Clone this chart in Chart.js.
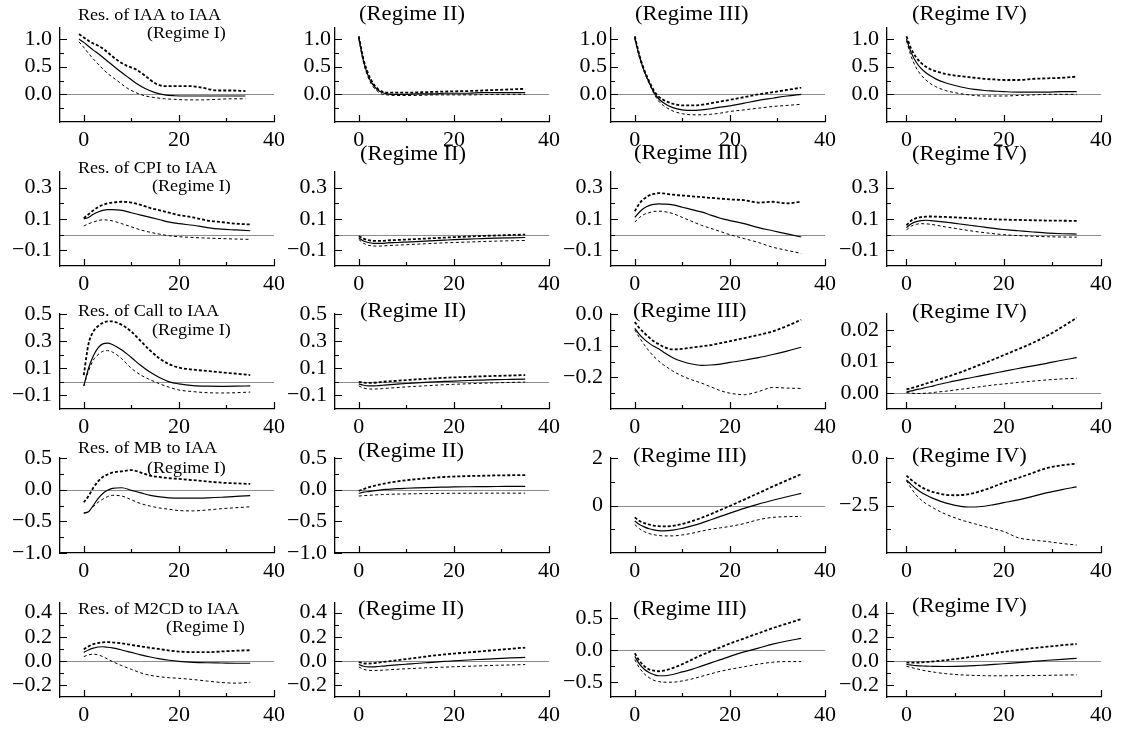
<!DOCTYPE html>
<html><head><meta charset="utf-8">
<script src="https://cdn.jsdelivr.net/npm/chart.js@4.4.0/dist/chart.umd.min.js"></script>
<style>
html,body{margin:0;padding:0;background:#fff;overflow:hidden;}
#wrap{position:relative;width:1123px;height:731px;overflow:hidden;background:#fff;}
canvas{position:absolute;}
</style></head><body><div id="wrap"></div>
<script>
// ---------------- DATA ----------------
const horizon      = [0,1,2,3,4,5,6,8,10,12,14,16,18,20,23,26,29,32,35];
const horizonIAA_I = [-1,0,1,2,3,4,5,7,9,11,13,15,17,19,22,25,28,31,34];

const variableNames = ["IAA","CPI","Call","MB","M2CD"];
const regimeNames = ["(Regime I)","(Regime II)","(Regime III)","(Regime IV)"];

// Res. of IAA to IAA
const iaa_I_mid  = [1.0,0.94,0.87,0.80,0.74,0.67,0.60,0.46,0.33,0.20,0.10,0.03,-0.01,-0.025,-0.03,-0.03,-0.03,-0.03,-0.03];
const iaa_I_up   = [1.09,1.03,0.97,0.92,0.88,0.83,0.76,0.62,0.52,0.45,0.33,0.20,0.15,0.15,0.15,0.12,0.07,0.07,0.06];
const iaa_I_lo   = [0.95,0.85,0.74,0.64,0.55,0.46,0.38,0.25,0.12,0.03,-0.03,-0.06,-0.08,-0.09,-0.10,-0.10,-0.09,-0.08,-0.08];
const iaa_II_mid = [1.03,0.60,0.33,0.17,0.08,0.03,0.01,0.0,0.0,0.01,0.01,0.01,0.02,0.02,0.02,0.03,0.03,0.03,0.03];
const iaa_II_up  = [1.05,0.63,0.37,0.20,0.10,0.05,0.03,0.03,0.03,0.035,0.04,0.045,0.05,0.055,0.06,0.07,0.08,0.09,0.10];
const iaa_II_lo  = [1.0,0.57,0.30,0.14,0.05,0.0,-0.01,-0.02,-0.02,-0.02,-0.015,-0.01,-0.01,-0.01,-0.01,-0.005,0.0,0.0,0.0];
const iaa_III_mid= [1.03,0.68,0.42,0.22,0.04,-0.08,-0.15,-0.24,-0.28,-0.29,-0.28,-0.26,-0.23,-0.21,-0.16,-0.11,-0.07,-0.03,0.0];
const iaa_III_up = [1.05,0.70,0.44,0.24,0.07,-0.04,-0.10,-0.17,-0.20,-0.20,-0.19,-0.16,-0.13,-0.10,-0.05,0.0,0.04,0.08,0.12];
const iaa_III_lo = [1.0,0.66,0.40,0.20,0.02,-0.12,-0.20,-0.30,-0.35,-0.37,-0.37,-0.36,-0.34,-0.31,-0.28,-0.25,-0.22,-0.20,-0.18];
const iaa_IV_mid = [1.0,0.75,0.58,0.47,0.39,0.33,0.28,0.21,0.16,0.12,0.09,0.07,0.06,0.05,0.04,0.04,0.04,0.05,0.05];
const iaa_IV_up  = [1.05,0.82,0.67,0.57,0.50,0.45,0.42,0.37,0.34,0.32,0.30,0.28,0.27,0.26,0.26,0.28,0.29,0.30,0.32];
const iaa_IV_lo  = [0.97,0.68,0.48,0.35,0.26,0.19,0.14,0.07,0.03,0.0,-0.02,-0.03,-0.03,-0.03,-0.02,-0.01,0.0,0.0,0.0];

// Res. of CPI to IAA
const cpi_I_mid  = [0.10,0.11,0.13,0.145,0.155,0.16,0.16,0.155,0.14,0.125,0.11,0.095,0.08,0.07,0.06,0.045,0.035,0.03,0.025];
const cpi_I_up   = [0.105,0.13,0.155,0.175,0.19,0.20,0.205,0.21,0.205,0.19,0.17,0.155,0.14,0.125,0.11,0.09,0.08,0.07,0.065];
const cpi_I_lo   = [0.055,0.07,0.08,0.09,0.095,0.093,0.088,0.07,0.05,0.03,0.015,0.003,-0.007,-0.013,-0.018,-0.022,-0.025,-0.028,-0.03];
const cpi_II_mid = [-0.02,-0.04,-0.05,-0.055,-0.055,-0.055,-0.052,-0.05,-0.047,-0.044,-0.041,-0.038,-0.035,-0.032,-0.028,-0.025,-0.022,-0.02,-0.018];
const cpi_II_up  = [-0.01,-0.025,-0.035,-0.04,-0.04,-0.04,-0.037,-0.034,-0.031,-0.028,-0.025,-0.022,-0.019,-0.016,-0.012,-0.008,-0.005,-0.002,0.0];
const cpi_II_lo  = [-0.03,-0.055,-0.068,-0.072,-0.073,-0.072,-0.07,-0.067,-0.064,-0.061,-0.058,-0.055,-0.052,-0.05,-0.047,-0.044,-0.041,-0.039,-0.037];
const cpi_III_mid= [0.11,0.145,0.17,0.185,0.193,0.196,0.195,0.19,0.175,0.16,0.145,0.125,0.105,0.09,0.07,0.045,0.025,0.005,-0.015];
const cpi_III_up = [0.15,0.20,0.23,0.25,0.26,0.265,0.263,0.255,0.25,0.245,0.24,0.235,0.23,0.225,0.22,0.205,0.21,0.20,0.21];
const cpi_III_lo = [0.08,0.11,0.13,0.14,0.148,0.15,0.148,0.135,0.11,0.085,0.06,0.04,0.02,0.0,-0.025,-0.05,-0.08,-0.10,-0.12];
const cpi_IV_mid = [0.045,0.07,0.083,0.09,0.092,0.09,0.087,0.08,0.072,0.064,0.056,0.048,0.04,0.033,0.025,0.017,0.01,0.006,0.004];
const cpi_IV_up  = [0.06,0.09,0.105,0.112,0.115,0.116,0.115,0.113,0.11,0.107,0.104,0.101,0.098,0.096,0.094,0.092,0.09,0.089,0.088];
const cpi_IV_lo  = [0.03,0.055,0.066,0.07,0.069,0.066,0.061,0.05,0.04,0.03,0.021,0.013,0.006,0.0,-0.006,-0.01,-0.013,-0.015,-0.016];

// Res. of Call to IAA
const call_I_mid  = [-0.03,0.10,0.19,0.25,0.28,0.285,0.275,0.235,0.18,0.12,0.07,0.03,0.0,-0.015,-0.028,-0.032,-0.033,-0.032,-0.03];
const call_I_up   = [0.05,0.28,0.37,0.41,0.435,0.445,0.445,0.42,0.37,0.30,0.23,0.17,0.13,0.105,0.09,0.08,0.07,0.06,0.05];
const call_I_lo   = [-0.03,0.08,0.16,0.20,0.225,0.23,0.22,0.17,0.10,0.05,0.015,-0.015,-0.04,-0.06,-0.072,-0.08,-0.082,-0.08,-0.075];
const call_II_mid = [-0.015,-0.025,-0.03,-0.03,-0.028,-0.025,-0.022,-0.017,-0.012,-0.008,-0.004,0.0,0.003,0.006,0.01,0.013,0.016,0.018,0.02];
const call_II_up  = [0.0,-0.005,-0.008,-0.007,-0.004,0.0,0.003,0.008,0.013,0.018,0.022,0.026,0.03,0.033,0.037,0.041,0.044,0.047,0.05];
const call_II_lo  = [-0.03,-0.045,-0.052,-0.053,-0.052,-0.05,-0.047,-0.042,-0.037,-0.033,-0.029,-0.025,-0.021,-0.018,-0.014,-0.01,-0.007,-0.004,-0.002];
const call_III_mid= [-0.045,-0.065,-0.08,-0.092,-0.102,-0.11,-0.12,-0.138,-0.15,-0.158,-0.162,-0.161,-0.158,-0.153,-0.146,-0.138,-0.128,-0.117,-0.105];
const call_III_up = [-0.025,-0.045,-0.06,-0.074,-0.086,-0.095,-0.103,-0.112,-0.11,-0.106,-0.102,-0.098,-0.092,-0.086,-0.076,-0.066,-0.055,-0.038,-0.018];
const call_III_lo = [-0.05,-0.075,-0.097,-0.117,-0.134,-0.148,-0.16,-0.18,-0.196,-0.208,-0.218,-0.23,-0.242,-0.25,-0.255,-0.245,-0.232,-0.234,-0.235];
const call_IV_mid = [0.0004,0.0007,0.0011,0.0014,0.0018,0.0021,0.0025,0.0032,0.0039,0.0045,0.0051,0.0057,0.0063,0.0069,0.0078,0.0086,0.0095,0.0104,0.0112];
const call_IV_up  = [0.0012,0.0016,0.002,0.0025,0.003,0.0035,0.004,0.005,0.006,0.0071,0.0083,0.0095,0.0107,0.012,0.0139,0.0159,0.0182,0.0209,0.0238];
const call_IV_lo  = [0.0002,0.0,-0.0001,-0.0001,0.0,0.0001,0.0003,0.0006,0.001,0.0014,0.0018,0.0022,0.0026,0.0029,0.0034,0.0038,0.0042,0.0045,0.0047];

// Res. of MB to IAA
const mb_I_mid  = [-0.37,-0.35,-0.25,-0.14,-0.06,-0.01,0.02,0.03,-0.01,-0.05,-0.09,-0.115,-0.13,-0.135,-0.135,-0.13,-0.12,-0.105,-0.095];
const mb_I_up   = [-0.20,-0.10,0.03,0.13,0.20,0.24,0.27,0.29,0.31,0.27,0.22,0.20,0.18,0.17,0.15,0.13,0.11,0.10,0.09];
const mb_I_lo   = [-0.37,-0.34,-0.27,-0.20,-0.15,-0.11,-0.09,-0.10,-0.16,-0.22,-0.26,-0.29,-0.31,-0.33,-0.335,-0.32,-0.30,-0.285,-0.27];
const mb_II_mid = [-0.06,-0.04,-0.03,-0.02,-0.01,0.0,0.005,0.015,0.022,0.028,0.033,0.037,0.04,0.043,0.046,0.048,0.05,0.051,0.052];
const mb_II_up  = [-0.02,0.01,0.035,0.055,0.075,0.09,0.105,0.13,0.15,0.165,0.178,0.19,0.20,0.207,0.215,0.22,0.225,0.228,0.23];
const mb_II_lo  = [-0.10,-0.095,-0.09,-0.085,-0.08,-0.077,-0.074,-0.07,-0.067,-0.064,-0.062,-0.06,-0.058,-0.057,-0.056,-0.055,-0.055,-0.055,-0.055];
const mb_III_mid= [-0.65,-0.80,-0.90,-0.98,-1.03,-1.06,-1.07,-1.04,-0.96,-0.86,-0.74,-0.60,-0.46,-0.32,-0.12,0.06,0.22,0.37,0.51];
const mb_III_up = [-0.50,-0.65,-0.74,-0.80,-0.85,-0.87,-0.88,-0.86,-0.78,-0.66,-0.52,-0.36,-0.19,-0.02,0.25,0.52,0.80,1.06,1.32];
const mb_III_lo = [-0.80,-0.98,-1.10,-1.18,-1.23,-1.26,-1.28,-1.28,-1.24,-1.17,-1.08,-1.00,-0.94,-0.88,-0.76,-0.60,-0.50,-0.47,-0.46];
const mb_IV_mid = [-1.15,-1.40,-1.62,-1.80,-1.95,-2.07,-2.18,-2.36,-2.49,-2.57,-2.58,-2.54,-2.45,-2.35,-2.20,-2.02,-1.82,-1.66,-1.52];
const mb_IV_up  = [-0.93,-1.15,-1.35,-1.52,-1.65,-1.75,-1.83,-1.93,-1.96,-1.93,-1.84,-1.68,-1.50,-1.30,-1.05,-0.78,-0.52,-0.38,-0.30];
const mb_IV_lo  = [-1.20,-1.60,-1.95,-2.20,-2.40,-2.55,-2.70,-2.95,-3.15,-3.32,-3.46,-3.60,-3.73,-3.87,-4.20,-4.32,-4.40,-4.50,-4.58];

// Res. of M2CD to IAA
const m2_I_mid  = [0.07,0.09,0.105,0.115,0.117,0.113,0.107,0.09,0.07,0.05,0.032,0.017,0.005,-0.004,-0.012,-0.016,-0.018,-0.02,-0.02];
const m2_I_up   = [0.095,0.12,0.138,0.148,0.154,0.156,0.154,0.145,0.132,0.12,0.108,0.097,0.085,0.077,0.072,0.072,0.078,0.084,0.088];
const m2_I_lo   = [0.035,0.05,0.055,0.05,0.035,0.015,-0.005,-0.04,-0.07,-0.10,-0.12,-0.132,-0.14,-0.145,-0.155,-0.168,-0.18,-0.185,-0.178];
const m2_II_mid = [-0.03,-0.045,-0.05,-0.05,-0.047,-0.043,-0.04,-0.034,-0.028,-0.022,-0.016,-0.01,-0.005,0.0,0.007,0.013,0.019,0.024,0.028];
const m2_II_up  = [-0.01,-0.02,-0.022,-0.02,-0.015,-0.01,-0.005,0.005,0.015,0.025,0.035,0.045,0.053,0.06,0.07,0.08,0.09,0.10,0.11];
const m2_II_lo  = [-0.05,-0.07,-0.078,-0.08,-0.079,-0.077,-0.075,-0.07,-0.066,-0.062,-0.058,-0.055,-0.052,-0.049,-0.045,-0.041,-0.037,-0.034,-0.031];
const m2_III_mid= [-0.10,-0.22,-0.30,-0.35,-0.38,-0.40,-0.40,-0.38,-0.34,-0.30,-0.25,-0.20,-0.15,-0.10,-0.03,0.03,0.09,0.14,0.18];
const m2_III_up = [-0.05,-0.17,-0.25,-0.30,-0.32,-0.33,-0.32,-0.28,-0.22,-0.15,-0.08,-0.02,0.04,0.10,0.18,0.26,0.34,0.41,0.48];
const m2_III_lo = [-0.15,-0.28,-0.37,-0.43,-0.47,-0.49,-0.50,-0.50,-0.48,-0.45,-0.41,-0.37,-0.33,-0.30,-0.26,-0.22,-0.19,-0.18,-0.18];
const m2_IV_mid = [-0.03,-0.035,-0.04,-0.042,-0.044,-0.045,-0.046,-0.047,-0.046,-0.044,-0.04,-0.035,-0.03,-0.024,-0.015,-0.005,0.005,0.013,0.02];
const m2_IV_up  = [-0.015,-0.015,-0.015,-0.013,-0.01,-0.007,-0.003,0.005,0.015,0.025,0.037,0.05,0.062,0.075,0.09,0.105,0.118,0.13,0.14];
const m2_IV_lo  = [-0.045,-0.055,-0.065,-0.075,-0.083,-0.09,-0.096,-0.106,-0.113,-0.118,-0.121,-0.123,-0.124,-0.124,-0.123,-0.122,-0.12,-0.118,-0.116];

// Tick values
const xTicks = [0,20,40];
const xMinor = [10,30];
const yTicksIAA = [0,0.5,1.0],        yMinorIAA = [-0.25,0.25,0.75];
const yTicksCPI = [-0.1,0.1,0.3],     yMinorCPI = [0,0.2];
const yTicksCall = [-0.1,0.1,0.3,0.5],yMinorCall = [0,0.2,0.4];
const yTicksCallIII = [-0.2,-0.1,0],  yMinorCallIII = [-0.25,-0.15,-0.05];
const yTicksCallIV = [0,0.01,0.02],   yMinorCallIV = [0.005,0.015];
const yTicksMB = [-1,-0.5,0,0.5],     yMinorMB = [-0.75,-0.25,0.25];
const yTicksMBIII = [0,2],            yMinorMBIII = [-1,1];
const yTicksMBIV = [-2.5,0],          yMinorMBIV = [-3.75,-1.25];
const yTicksM2 = [-0.2,0,0.2,0.4],    yMinorM2 = [-0.1,0.1,0.3];
const yTicksM2III = [-0.5,0,0.5],     yMinorM2III = [-0.25,0.25];

// Panels (row, col) -> series + axis ranges
const panels = [
 {r:0,c:0,x:horizonIAA_I,s:[iaa_I_mid,iaa_I_up,iaa_I_lo],  yr:[-0.5,1.2], t:yTicksIAA, m:yMinorIAA, d:1},
 {r:0,c:1,x:horizon,s:[iaa_II_mid,iaa_II_up,iaa_II_lo],    yr:[-0.5,1.2], t:yTicksIAA, m:yMinorIAA, d:1},
 {r:0,c:2,x:horizon,s:[iaa_III_mid,iaa_III_up,iaa_III_lo], yr:[-0.5,1.2], t:yTicksIAA, m:yMinorIAA, d:1},
 {r:0,c:3,x:horizon,s:[iaa_IV_mid,iaa_IV_up,iaa_IV_lo],    yr:[-0.5,1.2], t:yTicksIAA, m:yMinorIAA, d:1},
 {r:1,c:0,x:horizon,s:[cpi_I_mid,cpi_I_up,cpi_I_lo],       yr:[-0.2,0.4], t:yTicksCPI, m:yMinorCPI, d:1},
 {r:1,c:1,x:horizon,s:[cpi_II_mid,cpi_II_up,cpi_II_lo],    yr:[-0.2,0.4], t:yTicksCPI, m:yMinorCPI, d:1},
 {r:1,c:2,x:horizon,s:[cpi_III_mid,cpi_III_up,cpi_III_lo], yr:[-0.2,0.4], t:yTicksCPI, m:yMinorCPI, d:1},
 {r:1,c:3,x:horizon,s:[cpi_IV_mid,cpi_IV_up,cpi_IV_lo],    yr:[-0.2,0.4], t:yTicksCPI, m:yMinorCPI, d:1},
 {r:2,c:0,x:horizon,s:[call_I_mid,call_I_up,call_I_lo],    yr:[-0.2,0.5], t:yTicksCall, m:yMinorCall, d:1},
 {r:2,c:1,x:horizon,s:[call_II_mid,call_II_up,call_II_lo], yr:[-0.2,0.5], t:yTicksCall, m:yMinorCall, d:1},
 {r:2,c:2,x:horizon,s:[call_III_mid,call_III_up,call_III_lo], yr:[-0.3,0.0], t:yTicksCallIII, m:yMinorCallIII, d:1},
 {r:2,c:3,x:horizon,s:[call_IV_mid,call_IV_up,call_IV_lo], yr:[-0.005,0.025], t:yTicksCallIV, m:yMinorCallIV, d:2},
 {r:3,c:0,x:horizon,s:[mb_I_mid,mb_I_up,mb_I_lo],          yr:[-1,0.5], t:yTicksMB, m:yMinorMB, d:1},
 {r:3,c:1,x:horizon,s:[mb_II_mid,mb_II_up,mb_II_lo],       yr:[-1,0.5], t:yTicksMB, m:yMinorMB, d:1},
 {r:3,c:2,x:horizon,s:[mb_III_mid,mb_III_up,mb_III_lo],    yr:[-2,2], t:yTicksMBIII, m:yMinorMBIII, d:0},
 {r:3,c:3,x:horizon,s:[mb_IV_mid,mb_IV_up,mb_IV_lo],       yr:[-5,0], t:yTicksMBIV, m:yMinorMBIV, d:1},
 {r:4,c:0,x:horizon,s:[m2_I_mid,m2_I_up,m2_I_lo],          yr:[-0.3,0.48], t:yTicksM2, m:yMinorM2, d:1},
 {r:4,c:1,x:horizon,s:[m2_II_mid,m2_II_up,m2_II_lo],       yr:[-0.3,0.48], t:yTicksM2, m:yMinorM2, d:1},
 {r:4,c:2,x:horizon,s:[m2_III_mid,m2_III_up,m2_III_lo],    yr:[-0.73,0.73], t:yTicksM2III, m:yMinorM2III, d:1},
 {r:4,c:3,x:horizon,s:[m2_IV_mid,m2_IV_up,m2_IV_lo],       yr:[-0.3,0.48], t:yTicksM2, m:yMinorM2, d:1}
];

// ---------------- LAYOUT ----------------
const colArea = [{l:60,r:274,xmin:-5},{l:335,r:549,xmin:-5},{l:611,r:825,xmin:-5},{l:887,r:1101,xmin:-4}];
const rowArea = [{t:28,b:122},{t:172,b:266},{t:314,b:409},{t:458,b:553},{t:603,b:697}];
const WY = 70, PT = 30, PR = 25, HX = 40;
// title positions: [left x, center y] in page pixels
const titlePos = [[78,16],[78,169],[78,312],[78,449],[78,610]];
const regimeIPos = [[147,34],[152,187],[152,331],[147,469],[166,628]];
const regimePos = [
 [[359,15],[635,15],[912,15]],
 [[360,155],[634,154],[912,155]],
 [[360,312],[633,312],[912,313]],
 [[358,452],[633,457],[912,457]],
 [[358,610],[633,610],[912,607]]
];
const FONT = '"Liberation Serif","Times New Roman",serif';

function fmt(v, d){
  let s = Math.abs(v) < 1e-12 ? (0).toFixed(d) : v.toFixed(d);
  return s.replace('-', '\u2212');
}

const wrap = document.getElementById('wrap');

panels.forEach(p => {
  const ca = colArea[p.c], ra = rowArea[p.r];
  const cl = ca.l - WY, ct = ra.t - PT;
  const cw = (ca.r - ca.l) + WY + PR, ch = (ra.b - ra.t) + PT + HX;
  const cv = document.createElement('canvas');
  cv.width = cw; cv.height = ch;
  cv.style.left = cl + 'px'; cv.style.top = ct + 'px';
  cv.style.width = cw + 'px'; cv.style.height = ch + 'px';
  wrap.appendChild(cv);

  const texts = [];
  if (p.c === 0) {
    texts.push({txt:'Res. of ' + variableNames[p.r] + ' to IAA', x:titlePos[p.r][0], y:titlePos[p.r][1], size:16, sx:1.13});
    texts.push({txt:regimeNames[0], x:regimeIPos[p.r][0], y:regimeIPos[p.r][1], size:16, sx:1.13});
  } else {
    const rp = regimePos[p.r][p.c-1];
    texts.push({txt:regimeNames[p.c], x:rp[0], y:rp[1], size:20, sx:1.13});
  }

  const deco = {
    id:'deco',
    beforeDatasetsDraw(chart){
      const {ctx, chartArea:a, scales:{y}} = chart;
      if (y.min < 0 && y.max > 0) {
        const yy = Math.round(y.getPixelForValue(0)) + 0.5;
        ctx.save(); ctx.strokeStyle = '#8c8c8c'; ctx.lineWidth = 1;
        ctx.beginPath(); ctx.moveTo(a.left, yy); ctx.lineTo(a.right, yy); ctx.stroke(); ctx.restore();
      }
    },
    afterDraw(chart){
      const {ctx, chartArea:a, scales:{x,y}} = chart;
      ctx.save(); ctx.strokeStyle = '#000'; ctx.lineWidth = 1.2;
      ctx.beginPath();
      p.t.forEach(v => { const yy = Math.round(y.getPixelForValue(v))+0.5; ctx.moveTo(a.left, yy); ctx.lineTo(a.left+7, yy); });
      p.m.forEach(v => { const yy = Math.round(y.getPixelForValue(v))+0.5; ctx.moveTo(a.left, yy); ctx.lineTo(a.left+4, yy); });
      xTicks.forEach(v => { const xx = Math.round(x.getPixelForValue(v))+0.5; ctx.moveTo(xx, a.bottom); ctx.lineTo(xx, a.bottom-7); });
      xMinor.forEach(v => { const xx = Math.round(x.getPixelForValue(v))+0.5; ctx.moveTo(xx, a.bottom); ctx.lineTo(xx, a.bottom-4); });
      ctx.stroke();
      ctx.fillStyle = '#000'; ctx.textBaseline = 'middle'; ctx.textAlign = 'left';
      texts.forEach(t => {
        ctx.save();
        ctx.font = t.size + 'px ' + FONT;
        ctx.translate(t.x - cl, t.y - ct);
        ctx.scale(t.sx, 1);
        ctx.fillText(t.txt, 0, 0);
        ctx.restore();
      });
      ctx.restore();
    }
  };

  const mk = (arr) => p.x.map((t,i) => ({x:t, y:arr[i]}));
  const labPad = (p.r === 0 && (p.c === 1 || p.c === 2)) ? 4 : 8;

  new Chart(cv, {
    type:'line',
    data:{datasets:[
      {data:mk(p.s[0]), borderColor:'#000', borderWidth:1.2, pointRadius:0, fill:false, cubicInterpolationMode:'monotone'},
      {data:mk(p.s[1]), borderColor:'#000', borderWidth:1.8, borderDash:[3,2], pointRadius:0, fill:false, cubicInterpolationMode:'monotone'},
      {data:mk(p.s[2]), borderColor:'#000', borderWidth:1.0, borderDash:[3,2.5], pointRadius:0, fill:false, cubicInterpolationMode:'monotone'}
    ]},
    options:{
      responsive:false, animation:false, events:[],
      layout:{padding:{top:PT, right:PR, left:0, bottom:0}},
      plugins:{legend:{display:false}, tooltip:{enabled:false}},
      scales:{
        x:{type:'linear', min:ca.xmin, max:40,
           grid:{display:false, drawTicks:false},
           border:{display:true, color:'#000', width:1.3},
           afterBuildTicks:s => { s.ticks = xTicks.map(v => ({value:v})); },
           ticks:{autoSkip:false, maxRotation:0, padding:5, color:'#000', font:{family:FONT, size:22}, callback:v => String(v)},
           afterFit:s => { s.height = HX; }},
        y:{type:'linear', min:p.yr[0], max:p.yr[1],
           grid:{display:false, drawTicks:false},
           border:{display:true, color:'#000', width:1.3},
           afterBuildTicks:s => { s.ticks = p.t.map(v => ({value:v})); },
           ticks:{autoSkip:false, padding:labPad, color:'#000', font:{family:FONT, size:22}, callback:v => fmt(v, p.d)},
           afterFit:s => { s.width = WY; }}
      }
    },
    plugins:[deco]
  });
});
</script>
</body></html>
